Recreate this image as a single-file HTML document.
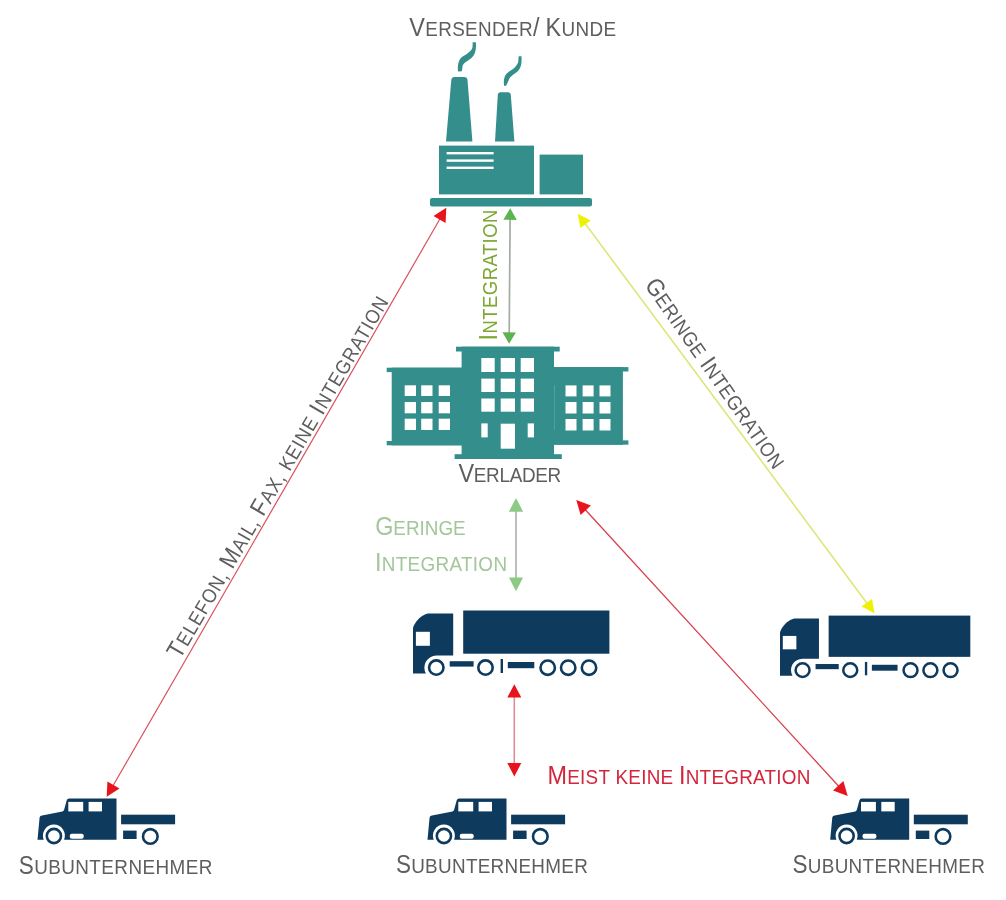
<!DOCTYPE html>
<html><head><meta charset="utf-8"><style>
html,body{margin:0;padding:0;background:#fff;width:1006px;height:900px;overflow:hidden}
svg{display:block;filter:blur(0.45px)}
text{font-family:"Liberation Sans",sans-serif}
</style></head><body>
<svg width="1006" height="900" viewBox="0 0 1006 900">
<defs>
<g id="bigtruck">
  <path d="M0,63 L0,19 C0,13 9,3 16,3 L40.2,3 L40.2,45.1 L23.3,45.1 A12,12 0 0 0 12.9,63 Z" fill="#0e3a5e"/>
  <rect x="2.9" y="21.3" width="14" height="14" fill="#fff"/>
  <rect x="50.2" y="0" width="146.2" height="43.2" fill="#0e3a5e"/>
  <g fill="none" stroke="#0e3a5e" stroke-width="2.6">
    <circle cx="23.3" cy="57.1" r="7.2"/>
    <circle cx="72.5" cy="57.1" r="7.2"/>
    <circle cx="134.7" cy="57.2" r="7.2"/>
    <circle cx="155.2" cy="57.2" r="7.2"/>
    <circle cx="176" cy="57.2" r="7.2"/>
  </g>
  <rect x="36.7" y="50.7" width="23.9" height="5.4" fill="#0e3a5e"/>
  <rect x="87.6" y="48.5" width="2.4" height="14" fill="#0e3a5e"/>
  <rect x="94.8" y="51.5" width="26.5" height="6.2" fill="#0e3a5e"/>
</g>
<g id="smalltruck">
  <path d="M37.5,839.7 L39.6,817.5 Q40,815.8 42,815.6 L62.5,811.5 Q63.8,811 64.2,809.5 L66.8,800 Q67.3,798.5 69,798.5 L116.5,798.5 L116.5,839.7 L64.1,839.7 A11,11 0 1 0 43.7,839.7 Z" fill="#0e3a5e"/>
  <rect x="68.3" y="801.9" width="14.9" height="9.5" fill="#fff"/>
  <rect x="88.6" y="801.9" width="13.4" height="9.5" fill="#fff"/>
  <rect x="69.8" y="833.7" width="13.9" height="5" rx="2" fill="#fff"/>
  <circle cx="53.9" cy="836" r="7.1" fill="none" stroke="#0e3a5e" stroke-width="2.6"/>
  <rect x="121.1" y="814.7" width="54" height="9.6" fill="#0e3a5e"/>
  <rect x="123.1" y="830.6" width="13.5" height="8.4" fill="#0e3a5e"/>
  <circle cx="150.3" cy="836.4" r="7.3" fill="none" stroke="#0e3a5e" stroke-width="2.6"/>
</g>
</defs>
<rect width="1006" height="900" fill="#fff"/>

<!-- factory -->
<g fill="#338e8c">
  <path d="M446,141.5 L451.3,80 Q451.6,77 454.6,77 L464.2,77 Q467.2,77 467.5,80 L472.4,141.5 Z"/>
  <path d="M495,141.5 L497.8,95 Q498,92.3 500.6,92.3 L508,92.3 Q510.6,92.3 510.8,95 L514.4,141.5 Z"/>
  <rect x="439" y="145.6" width="95" height="48.8"/>
  <rect x="539.6" y="154.6" width="43.4" height="39.8"/>
  <rect x="430" y="198" width="162" height="8.4" rx="2"/>
</g>
<g fill="#338e8c">
  <path d="M458,71.5 C457.5,65 458.5,59.5 462,57 C466,54.5 471.5,51.5 472.5,47.5 L472.7,42.3 L475.9,42.3 C476.3,49 475.5,54.5 471.5,58 C468,61 463.5,62.5 462.6,66 L461.9,71.2 Z"/>
  <path d="M504.2,86 C503,80 504.5,74.5 508.5,72 C512.5,69.5 517,66.5 518.2,62 L518.7,56.3 L521.5,56.3 C521.8,62 521.5,68 517.5,71.5 C514,74.5 509.8,76.5 508.8,80 L506.3,85.5 Z"/>
</g>
<g fill="#fff">
  <rect x="446.6" y="152" width="47" height="2.4"/>
  <rect x="446.6" y="159.4" width="47" height="2.4"/>
  <rect x="446.6" y="166.6" width="47" height="2.4"/>
</g>

<!-- building -->
<g fill="#338e8c">
  <rect x="391.7" y="367.7" width="72" height="77.6"/>
  <rect x="386.7" y="367.7" width="76" height="4.4"/>
  <rect x="386.7" y="441" width="76" height="4.3"/>
  <rect x="552" y="367.1" width="70.9" height="77.6"/>
  <rect x="552" y="367.1" width="76.4" height="4.4"/>
  <rect x="552" y="440.4" width="76.4" height="4.3"/>
  <rect x="461.6" y="346.7" width="92.4" height="112.3"/>
  <rect x="456" y="346.7" width="103.7" height="4.8"/>
  <rect x="454.6" y="454.2" width="107.2" height="4.8"/>
</g>
<line x1="554.5" y1="385" x2="554.5" y2="430" stroke="#4ea3a1" stroke-width="1"/>
<g fill="#fff">
  <rect x="404.7" y="385.3" width="11.3" height="10.7"/><rect x="421.2" y="385.3" width="11.3" height="10.7"/><rect x="438.7" y="385.3" width="11.3" height="10.7"/>
  <rect x="404.7" y="402" width="11.3" height="11.3"/><rect x="421.2" y="402" width="11.3" height="11.3"/><rect x="438.7" y="402" width="11.3" height="11.3"/>
  <rect x="404.7" y="418.7" width="11.3" height="11.3"/><rect x="421.2" y="418.7" width="11.3" height="11.3"/><rect x="438.7" y="418.7" width="11.3" height="11.3"/>
  <rect x="565.5" y="385.4" width="11" height="11"/><rect x="582.6" y="385.4" width="11" height="11"/><rect x="599.5" y="385.4" width="11" height="11"/>
  <rect x="565.5" y="402" width="11" height="11.5"/><rect x="582.6" y="402" width="11" height="11.5"/><rect x="599.5" y="402" width="11" height="11.5"/>
  <rect x="565.5" y="419" width="11" height="11.5"/><rect x="582.6" y="419" width="11" height="11.5"/><rect x="599.5" y="419" width="11" height="11.5"/>
  <rect x="481.3" y="358" width="13.4" height="14"/><rect x="500.7" y="358" width="14.3" height="14"/><rect x="520.7" y="358" width="13.3" height="14"/>
  <rect x="481.3" y="378.6" width="13.4" height="13.4"/><rect x="500.7" y="378.6" width="14.3" height="13.4"/><rect x="520.7" y="378.6" width="13.3" height="13.4"/>
  <rect x="481.3" y="398.5" width="13.4" height="13.2"/><rect x="500.7" y="398.5" width="14.3" height="13.2"/><rect x="520.7" y="398.5" width="13.3" height="13.2"/>
  <rect x="481.3" y="423.4" width="6.4" height="14"/><rect x="500.7" y="423.7" width="14.3" height="25"/><rect x="527.7" y="423.4" width="6.3" height="14"/>
</g>

<!-- trucks -->
<use href="#bigtruck" transform="translate(413,610.5)"/>
<use href="#bigtruck" transform="translate(780,615.6) scale(0.969,0.955)"/>
<use href="#smalltruck"/>
<use href="#smalltruck" transform="translate(390,0)"/>
<use href="#smalltruck" transform="translate(792.7,0)"/>

<!-- arrows -->
<g id="arrows">
<line x1="440.6" y1="217.8" x2="112.4" y2="786.8" stroke="#d9505e" stroke-width="1.2"/>
<polygon points="446.3,207.8 433.5,216.0 445.6,223.0" fill="#e8131d"/>
<polygon points="106.7,796.8 107.4,781.6 119.5,788.6" fill="#e8131d"/>
<line x1="510.1" y1="217.8" x2="509.2" y2="334.3" stroke="#a4aaa4" stroke-width="1.7"/>
<polygon points="510.2,208.3 503.4,219.7 516.8,219.9" fill="#5cb44e"/>
<polygon points="509.1,343.8 502.5,332.2 515.9,332.4" fill="#5cb44e"/>
<line x1="584.4" y1="222.6" x2="867.9" y2="604.4" stroke="#dfe57a" stroke-width="1.6"/>
<polygon points="577.8,213.8 580.3,228.1 590.8,220.4" fill="#eef200"/>
<polygon points="874.5,613.2 861.5,606.6 872.0,598.9" fill="#eef200"/>
<line x1="516.0" y1="509.8" x2="516.0" y2="579.4" stroke="#a8b0a8" stroke-width="1.6"/>
<polygon points="516.0,497.9 508.9,511.8 523.1,511.8" fill="#8cca86"/>
<polygon points="516.0,591.3 508.9,577.4 523.1,577.4" fill="#8cca86"/>
<line x1="514.3" y1="695.6" x2="514.3" y2="765.1" stroke="#dc8c98" stroke-width="1.6"/>
<polygon points="514.3,684.2 507.3,697.6 521.3,697.6" fill="#e8131d"/>
<polygon points="514.3,776.5 507.3,763.1 521.3,763.1" fill="#e8131d"/>
<line x1="584.4" y1="508.8" x2="839.6" y2="787.2" stroke="#d9404f" stroke-width="1.3"/>
<polygon points="576.3,500.0 580.6,515.0 590.9,505.6" fill="#e8131d"/>
<polygon points="847.7,796.0 833.1,790.4 843.4,781.0" fill="#e8131d"/>
</g>

<!-- labels -->
<g id="labels">
<text transform="translate(409.2,36.2) scale(0.9,1)" textLength="230.0" lengthAdjust="spacing" font-size="21" fill="#5e5e5e"><tspan font-size="26">V</tspan>ERSENDER<tspan font-size="26">/</tspan> <tspan font-size="26">K</tspan>UNDE</text>
<text transform="translate(458.5,482.3) scale(0.9,1)" textLength="114.2" lengthAdjust="spacing" font-size="21" fill="#5e5e5e"><tspan font-size="26">V</tspan>ERLADER</text>
<text transform="translate(18.8,873.9) scale(0.9,1)" textLength="215.0" lengthAdjust="spacing" font-size="21" fill="#5e5e5e"><tspan font-size="25">S</tspan>UBUNTERNEHMER</text>
<text transform="translate(395.9,873.3) scale(0.9,1)" textLength="213.3" lengthAdjust="spacing" font-size="21" fill="#5e5e5e"><tspan font-size="25">S</tspan>UBUNTERNEHMER</text>
<text transform="translate(792.4,872.8) scale(0.9,1)" textLength="213.9" lengthAdjust="spacing" font-size="21" fill="#5e5e5e"><tspan font-size="25">S</tspan>UBUNTERNEHMER</text>
<text transform="translate(179.9,660) rotate(-59.7) scale(0.9,1)" textLength="460.9" lengthAdjust="spacing" font-size="20" fill="#5e5e5e"><tspan font-size="24.5">T</tspan>ELEFON, <tspan font-size="24.5">M</tspan>AIL, <tspan font-size="24.5">F</tspan>AX, KEINE <tspan font-size="24.5">I</tspan>NTEGRATION</text>
<text transform="translate(644,285.2) rotate(55) scale(0.9,1)" textLength="251.1" lengthAdjust="spacing" font-size="20" fill="#5e5e5e"><tspan font-size="24.5">G</tspan>ERINGE <tspan font-size="24.5">I</tspan>NTEGRATION</text>
<text transform="translate(497.4,340.4) rotate(-90) scale(0.9,1)" textLength="145.3" lengthAdjust="spacing" font-size="20.5" fill="#7ea632"><tspan font-size="26">I</tspan>NTEGRATION</text>
<text transform="translate(375.2,534.7) scale(0.9,1)" textLength="100.6" lengthAdjust="spacing" font-size="21" fill="#a3c79b"><tspan font-size="26">G</tspan>ERINGE</text>
<text transform="translate(375,570.5) scale(0.9,1)" textLength="146.7" lengthAdjust="spacing" font-size="21" fill="#a3c79b"><tspan font-size="26">I</tspan>NTEGRATION</text>
<text transform="translate(547.5,783.7) scale(0.9,1)" textLength="292.2" lengthAdjust="spacing" font-size="21" fill="#d2263c"><tspan font-size="26">M</tspan>EIST KEINE <tspan font-size="26">I</tspan>NTEGRATION</text>
</g>
</svg>
</body></html>
